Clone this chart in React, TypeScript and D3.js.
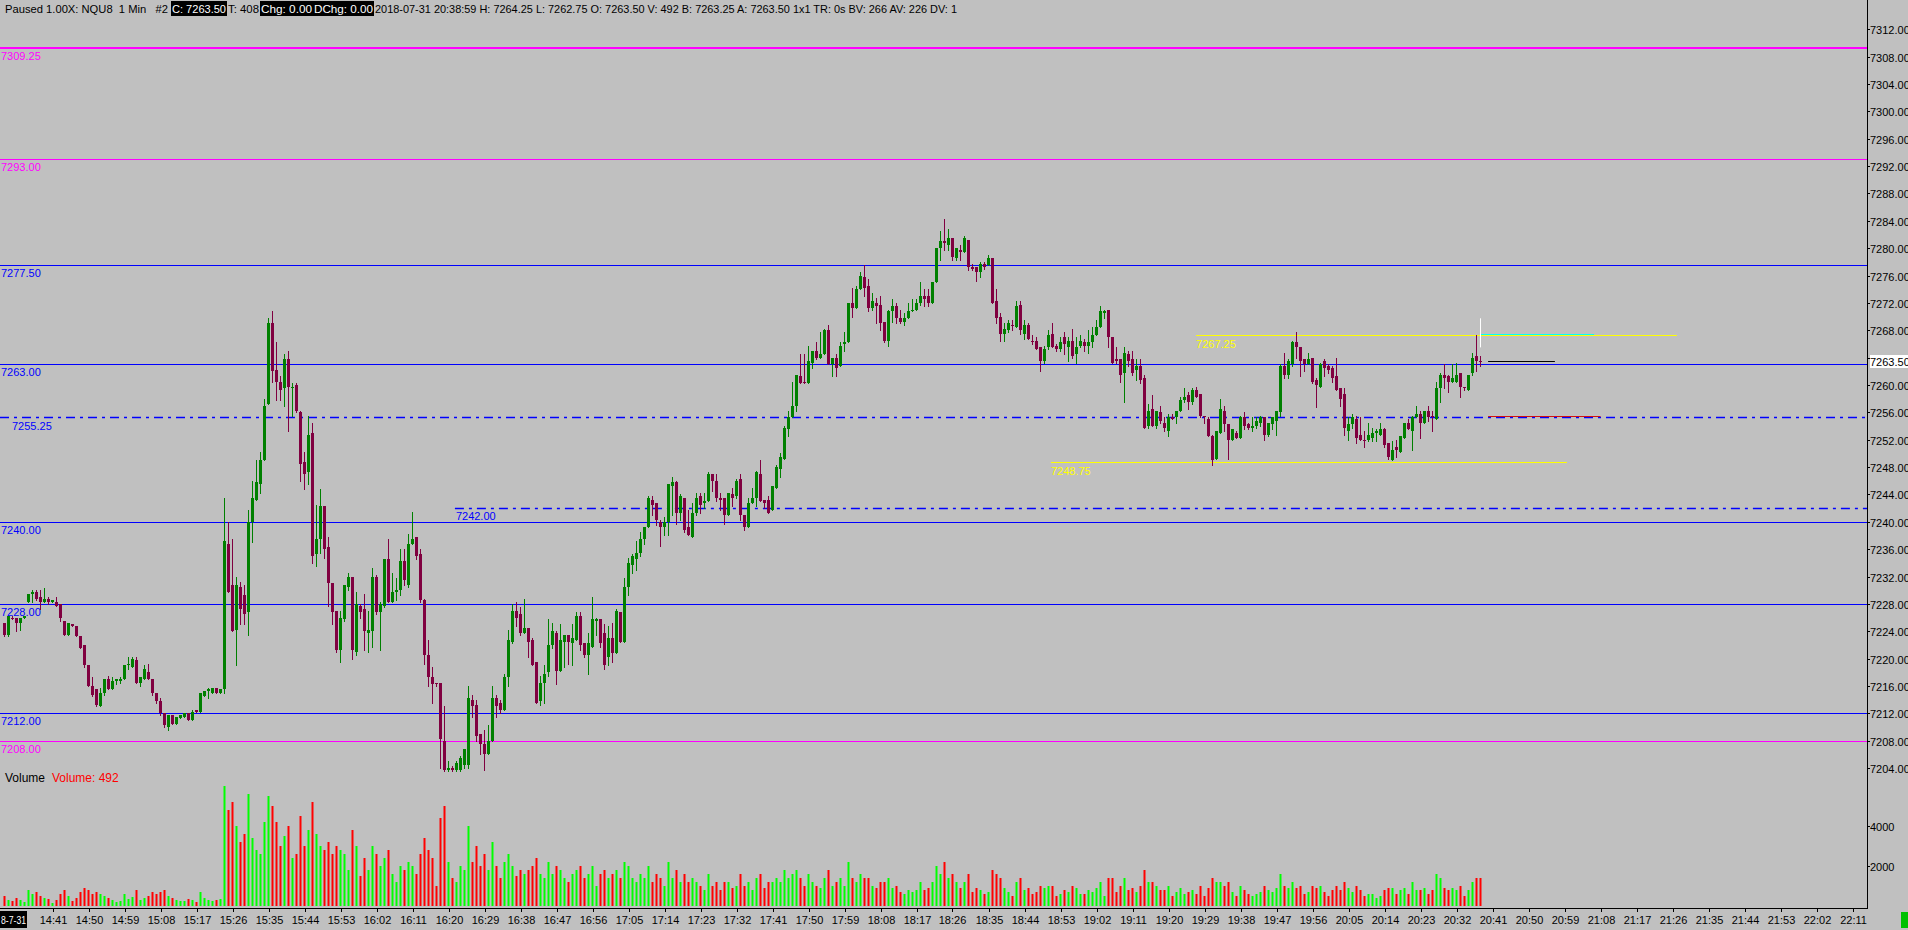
import React from 'react';
import * as d3 from 'd3';

// ---------------- DATA ----------------
const startTime = '14:29';
const opens = [
7225.25,7223.5,7226.0,7226.0,7225.25,7226.0,7228.25,7229.5,7229.75,7229.0,
7228.25,7228.75,7228.25,7228.25,7228.0,7225.5,7223.5,7225.0,7224.75,7223.25,
7222.0,7219.0,7216.0,7215.5,7213.0,7215.0,7217.0,7215.5,7216.75,7216.75,
7217.0,7219.0,7218.75,7219.75,7216.5,7217.0,7218.0,7217.0,7215.0,7213.75,
7212.0,7210.0,7211.75,7210.5,7211.25,7211.5,7212.0,7211.0,7212.5,7212.25,
7214.5,7215.25,7215.0,7215.75,7215.0,7215.5,7236.75,7230.75,7224.25,7230.5,
7229.25,7226.75,7240.0,7243.25,7245.5,7249.0,7257.25,7269.0,7262.25,7260.5,
7259.5,7263.75,7259.5,7260.0,7256.0,7248.75,7247.25,7253.0,7235.25,7237.5,
7242.25,7236.25,7231.0,7227.0,7221.25,7225.75,7230.5,7232.0,7221.0,7227.75,
7227.25,7223.75,7224.0,7232.0,7226.75,7227.75,7234.5,7228.25,7229.75,7230.0,
7234.25,7230.75,7236.75,7237.75,7235.25,7228.5,7220.5,7217.25,7216.5,7216.5,
7208.0,7203.75,7204.0,7203.75,7203.75,7204.5,7204.5,7214.0,7213.25,7209.0,
7207.5,7206.0,7208.0,7214.25,7213.5,7212.5,7217.25,7222.5,7227.0,7226.5,
7223.75,7224.5,7222.75,7219.5,7213.75,7216.5,7218.0,7222.0,7223.75,7218.25,
7222.5,7223.5,7222.25,7222.75,7226.25,7222.25,7220.5,7221.75,7225.5,7225.75,
7223.75,7220.25,7223.0,7220.75,7226.75,7222.5,7230.5,7233.75,7234.5,7235.5,
7237.5,7239.25,7243.25,7242.75,7240.0,7239.25,7240.0,7245.25,7245.75,7241.25,
7243.5,7239.25,7237.75,7241.25,7243.75,7242.75,7243.0,7247.0,7246.0,7243.5,
7243.5,7241.0,7244.0,7243.75,7246.25,7241.0,7239.25,7242.75,7243.5,7247.0,
7243.25,7243.25,7241.75,7245.0,7247.75,7249.25,7253.5,7255.25,7257.0,7261.25,
7260.5,7260.25,7263.25,7265.0,7264.0,7264.5,7268.0,7263.0,7264.0,7262.75,
7266.0,7266.25,7272.0,7271.25,7274.0,7275.75,7274.5,7271.25,7272.0,7271.75,
7269.25,7266.5,7270.75,7271.5,7269.75,7269.25,7269.75,7270.75,7271.0,7272.0,
7273.0,7273.0,7272.0,7275.0,7280.0,7281.0,7280.5,7281.5,7278.5,7279.75,
7279.5,7281.25,7277.25,7277.25,7276.5,7277.75,7277.5,7278.5,7272.25,7270.0,
7267.5,7268.0,7268.75,7268.5,7271.75,7267.5,7268.75,7266.5,7266.5,7265.5,
7263.5,7265.5,7267.5,7265.75,7265.25,7267.0,7265.5,7266.5,7264.5,7265.75,
7266.25,7265.75,7266.25,7267.25,7268.5,7270.5,7271.0,7267.0,7263.75,7263.75,
7261.75,7264.5,7263.75,7262.25,7262.75,7261.0,7254.0,7256.5,7254.0,7256.0,
7254.5,7253.25,7255.25,7255.25,7256.25,7257.75,7258.5,7257.5,7259.25,7258.75,
7255.5,7255.0,7252.5,7249.25,7253.0,7256.25,7254.25,7252.0,7253.0,7252.25,
7255.25,7254.25,7253.75,7254.0,7254.5,7255.25,7252.75,7254.25,7254.75,7256.0,
7262.75,7261.5,7263.0,7266.25,7265.5,7263.75,7263.0,7264.0,7260.75,7259.75,
7263.5,7262.75,7262.5,7261.25,7259.5,7258.75,7253.25,7254.25,7255.0,7252.75,
7252.0,7252.0,7252.25,7253.0,7252.75,7253.5,7251.5,7249.0,7251.0,7250.25,
7252.25,7254.5,7253.25,7255.25,7255.75,7254.5,7256.25,7255.5,7255.0,7259.5,
7261.5,7261.25,7260.5,7260.5,7261.75,7259.75,7259.25,7261.75,7264.25,7263.5];
const highs = [
7225.25,7226.25,7226.25,7226.0,7226.0,7226.25,7229.5,7230.0,7230.0,7230.0,
7230.25,7229.0,7228.5,7229.0,7228.0,7225.5,7225.25,7225.0,7224.75,7223.25,
7222.0,7219.0,7217.25,7215.5,7215.75,7217.0,7217.5,7217.25,7217.0,7217.25,
7219.0,7220.25,7220.25,7220.25,7217.25,7219.0,7219.25,7217.0,7215.0,7214.25,
7212.0,7211.75,7211.75,7211.5,7211.75,7212.0,7212.0,7212.5,7212.5,7215.0,
7215.25,7215.75,7215.75,7215.75,7215.5,7243.5,7240.0,7237.5,7232.0,7231.25,
7230.75,7241.75,7246.0,7249.0,7250.25,7258.0,7269.75,7270.75,7266.25,7261.25,
7264.5,7265.0,7260.25,7260.25,7256.25,7250.25,7255.5,7254.5,7242.5,7244.75,
7242.25,7237.75,7231.0,7227.0,7227.0,7230.75,7232.5,7232.0,7229.75,7228.0,
7229.5,7227.0,7233.25,7232.25,7228.25,7234.5,7237.5,7232.5,7231.75,7236.0,
7236.0,7238.25,7241.5,7237.75,7236.0,7228.75,7222.75,7218.75,7216.5,7216.5,
7213.0,7205.0,7204.25,7205.0,7205.75,7206.75,7216.0,7214.75,7214.0,7209.0,
7209.5,7210.25,7216.0,7214.75,7214.0,7217.75,7224.25,7228.0,7228.25,7227.5,
7228.75,7224.5,7223.0,7219.5,7217.5,7219.0,7225.75,7225.25,7224.0,7225.0,
7223.5,7223.5,7225.0,7226.75,7226.75,7222.25,7223.75,7229.0,7226.0,7225.75,
7225.0,7224.75,7225.25,7227.25,7226.75,7231.75,7234.75,7235.25,7237.25,7238.5,
7239.25,7243.75,7243.75,7242.75,7240.25,7240.75,7245.5,7246.5,7246.0,7244.0,
7243.5,7241.75,7242.75,7244.25,7244.25,7244.25,7247.25,7247.0,7247.0,7244.25,
7243.5,7244.25,7245.0,7246.25,7247.0,7241.0,7243.5,7245.0,7247.5,7249.0,
7243.25,7243.75,7245.25,7248.25,7250.0,7254.0,7256.25,7260.5,7261.5,7264.5,
7264.5,7265.75,7265.0,7266.25,7267.75,7268.25,7268.75,7264.0,7264.5,7266.25,
7267.75,7272.0,7274.25,7274.5,7276.5,7277.5,7275.5,7273.5,7272.75,7273.0,
7269.25,7271.0,7272.5,7272.0,7271.0,7270.5,7272.0,7272.5,7272.5,7275.0,
7274.0,7274.0,7275.0,7280.0,7282.5,7284.25,7282.75,7281.5,7280.0,7280.5,
7281.75,7281.25,7277.75,7277.25,7278.0,7278.0,7279.0,7278.5,7274.0,7270.5,
7269.0,7269.5,7269.5,7272.25,7272.25,7269.5,7269.0,7267.25,7267.0,7265.5,
7265.75,7268.0,7269.0,7266.0,7267.0,7267.75,7267.0,7268.25,7267.0,7267.25,
7266.75,7268.0,7268.5,7269.5,7271.5,7271.0,7271.0,7267.0,7265.5,7263.75,
7265.5,7265.0,7265.0,7263.75,7263.75,7261.5,7257.25,7258.5,7256.25,7257.0,
7255.25,7255.75,7255.75,7256.25,7258.25,7259.5,7259.0,7259.5,7259.75,7258.75,
7255.5,7255.25,7252.75,7253.25,7258.0,7257.0,7254.25,7253.5,7253.25,7255.5,
7256.0,7254.5,7255.25,7255.25,7255.5,7255.25,7254.5,7255.25,7256.25,7263.0,
7264.75,7263.75,7266.5,7267.75,7265.5,7263.75,7264.75,7264.0,7261.0,7263.25,
7263.75,7263.0,7262.75,7264.0,7259.5,7259.5,7255.25,7255.75,7255.5,7255.25,
7253.25,7254.5,7253.75,7253.5,7254.5,7253.75,7251.5,7251.75,7252.0,7252.5,
7254.5,7255.0,7255.5,7257.0,7256.25,7256.25,7257.0,7256.25,7260.5,7261.75,
7263.0,7261.5,7263.0,7263.25,7261.75,7259.75,7261.5,7264.75,7267.25,7264.25];
const lows = [
7223.25,7223.25,7225.75,7224.0,7224.25,7226.0,7228.25,7228.25,7228.5,7227.25,
7228.25,7228.0,7228.25,7227.75,7225.5,7223.5,7223.5,7224.75,7223.25,7221.5,
7218.75,7216.0,7214.5,7213.0,7213.0,7214.75,7215.5,7215.5,7216.25,7216.5,
7217.0,7218.5,7218.75,7216.5,7216.0,7217.0,7217.0,7214.75,7213.5,7211.75,
7210.0,7209.5,7210.5,7210.5,7211.25,7211.5,7211.0,7211.0,7212.25,7212.25,
7214.5,7214.25,7215.0,7215.0,7215.0,7215.0,7229.75,7224.0,7219.0,7225.0,
7225.0,7223.5,7237.0,7243.25,7244.25,7249.0,7257.25,7260.5,7257.75,7257.75,
7257.0,7253.25,7255.5,7256.0,7246.0,7244.75,7245.5,7234.0,7233.5,7235.5,
7234.75,7227.75,7225.0,7221.0,7219.5,7225.5,7230.0,7220.0,7220.5,7226.0,
7221.25,7221.0,7221.75,7226.5,7221.25,7227.5,7228.25,7228.25,7228.5,7229.25,
7230.75,7230.5,7236.75,7234.5,7228.25,7219.25,7216.0,7213.5,7216.0,7204.0,
7203.5,7203.5,7203.5,7203.5,7203.5,7204.0,7204.0,7211.5,7208.0,7206.0,
7203.75,7206.0,7208.0,7211.5,7212.0,7212.5,7216.0,7222.25,7224.75,7223.5,
7223.75,7220.25,7219.0,7213.5,7213.25,7213.5,7217.5,7221.5,7216.25,7218.25,
7218.75,7219.25,7219.0,7222.75,7221.25,7220.25,7217.75,7221.75,7223.5,7221.75,
7218.5,7219.0,7219.5,7220.75,7222.5,7222.5,7229.25,7232.5,7233.0,7235.0,
7236.75,7239.25,7241.0,7239.5,7236.5,7238.0,7238.0,7241.0,7239.75,7240.25,
7238.5,7238.0,7237.75,7241.0,7241.25,7242.0,7243.0,7244.5,7243.0,7241.75,
7239.75,7241.0,7242.25,7243.5,7240.25,7238.75,7239.25,7242.75,7242.25,7243.0,
7242.0,7241.25,7241.75,7245.0,7246.5,7249.25,7252.5,7255.25,7256.25,7260.25,
7260.25,7260.25,7262.5,7263.75,7264.0,7264.5,7263.0,7261.25,7261.25,7262.75,
7265.0,7266.25,7270.0,7271.25,7274.0,7273.0,7270.75,7271.0,7269.0,7268.0,
7266.25,7265.75,7269.25,7269.0,7269.0,7268.75,7269.75,7270.75,7271.0,7271.75,
7271.5,7271.5,7272.0,7275.0,7278.25,7279.75,7279.75,7278.25,7278.25,7278.25,
7279.5,7276.75,7276.75,7275.25,7275.75,7277.0,7277.5,7272.0,7269.0,7266.5,
7266.5,7267.75,7268.0,7268.5,7267.5,7266.75,7266.75,7266.0,7265.25,7262.0,
7263.25,7265.25,7265.5,7265.0,7265.0,7264.5,7263.5,7264.0,7263.25,7265.5,
7265.0,7264.75,7265.5,7267.25,7268.5,7269.75,7265.5,7263.25,7263.25,7260.5,
7257.5,7262.75,7261.5,7260.75,7260.25,7253.75,7253.75,7254.0,7253.75,7254.5,
7253.25,7252.5,7255.0,7254.5,7256.25,7257.5,7256.5,7257.25,7258.25,7255.25,
7254.5,7252.5,7248.25,7249.25,7253.0,7253.25,7249.25,7252.0,7252.25,7252.25,
7253.5,7253.5,7253.25,7253.75,7254.0,7252.0,7252.5,7253.5,7252.75,7255.5,
7261.0,7261.0,7262.75,7264.0,7261.25,7262.0,7263.0,7260.25,7256.75,7259.75,
7261.25,7261.75,7260.5,7259.25,7257.0,7252.75,7252.0,7253.75,7251.5,7252.0,
7251.0,7251.75,7251.75,7251.75,7252.75,7251.0,7249.25,7249.0,7249.5,7250.25,
7252.25,7253.5,7250.5,7255.25,7252.25,7254.5,7254.75,7253.25,7255.0,7257.5,
7259.5,7259.0,7260.5,7260.5,7258.25,7259.25,7259.25,7261.5,7262.0,7262.75];
const closes = [
7223.5,7226.25,7226.0,7225.25,7226.0,7226.25,7229.5,7229.75,7228.75,7228.25,
7228.75,7228.25,7228.5,7227.75,7226.0,7223.5,7225.25,7224.75,7223.25,7221.5,
7219.0,7216.0,7214.75,7213.25,7215.0,7217.0,7215.5,7216.75,7217.0,7217.0,
7219.0,7219.25,7220.0,7216.5,7217.25,7218.5,7217.0,7215.0,7213.75,7212.0,
7210.25,7211.75,7210.5,7211.5,7211.75,7212.0,7211.0,7212.25,7212.25,7215.0,
7215.25,7215.5,7215.75,7215.0,7215.5,7237.25,7229.75,7224.0,7230.75,7227.25,
7226.5,7240.0,7243.5,7245.75,7249.0,7257.0,7269.0,7262.0,7260.5,7259.25,
7263.75,7259.75,7259.75,7256.25,7248.5,7247.0,7252.75,7235.0,7237.5,7242.25,
7236.0,7231.0,7226.75,7221.25,7226.0,7230.75,7232.0,7221.25,7228.0,7226.75,
7224.0,7224.25,7232.0,7226.75,7228.0,7234.5,7228.25,7229.75,7230.0,7234.25,
7231.5,7236.75,7237.5,7235.0,7228.5,7220.5,7217.25,7216.25,7216.25,7208.25,
7203.75,7204.0,7203.75,7204.75,7205.5,7206.75,7214.25,7213.0,7208.75,7207.5,
7206.0,7208.0,7214.25,7213.0,7212.5,7217.25,7222.75,7227.0,7226.0,7223.75,
7224.5,7222.5,7219.0,7213.5,7216.5,7217.75,7222.0,7224.0,7218.25,7222.75,
7223.5,7222.5,7223.0,7226.25,7222.0,7220.5,7222.25,7225.75,7225.75,7222.25,
7219.0,7223.0,7220.75,7227.0,7222.5,7230.5,7234.0,7235.0,7235.5,7237.5,
7239.25,7243.5,7242.5,7240.25,7239.25,7240.0,7245.5,7245.75,7241.25,7243.75,
7238.75,7238.0,7241.25,7243.5,7242.5,7243.0,7247.0,7246.0,7243.5,7243.25,
7241.0,7244.25,7243.5,7246.0,7241.0,7239.25,7242.75,7243.5,7247.25,7243.0,
7242.75,7241.25,7245.25,7248.0,7249.5,7253.75,7255.25,7257.0,7261.5,7260.25,
7260.25,7263.5,7265.0,7264.0,7264.5,7268.0,7263.0,7264.0,7262.5,7265.75,
7266.25,7272.0,7271.25,7274.0,7276.0,7274.25,7271.25,7272.25,7271.5,7269.0,
7266.5,7270.75,7271.5,7269.75,7269.25,7269.75,7270.75,7271.0,7272.0,7273.0,
7272.5,7272.0,7275.0,7280.0,7281.0,7280.75,7281.5,7278.75,7280.0,7279.5,
7281.5,7277.25,7277.0,7276.5,7277.75,7277.25,7278.5,7272.0,7269.75,7267.5,
7268.25,7269.0,7268.75,7271.5,7268.0,7268.75,7266.75,7266.25,7265.25,7263.5,
7265.25,7267.25,7265.5,7265.25,7266.25,7266.0,7266.5,7264.25,7265.5,7266.5,
7265.75,7266.25,7267.25,7268.5,7270.75,7270.75,7267.0,7263.25,7263.5,7261.5,
7264.75,7263.5,7261.75,7262.75,7260.75,7253.75,7256.25,7254.0,7256.25,7254.75,
7253.75,7255.25,7255.0,7256.25,7257.75,7258.25,7257.5,7259.25,7258.25,7255.5,
7255.25,7252.5,7249.0,7253.25,7256.5,7254.25,7252.0,7253.5,7252.25,7255.25,
7254.0,7253.75,7254.0,7254.75,7255.25,7252.75,7254.5,7255.25,7256.25,7262.75,
7261.5,7263.5,7266.25,7265.5,7263.5,7263.0,7263.75,7260.5,7260.0,7263.0,
7262.5,7262.25,7261.0,7259.25,7258.0,7253.75,7254.25,7255.25,7252.25,7252.0,
7251.75,7252.75,7253.0,7253.25,7253.5,7251.25,7249.5,7250.5,7250.5,7252.5,
7254.5,7253.5,7255.25,7255.75,7254.5,7256.25,7255.25,7255.25,7259.5,7261.5,
7261.0,7260.5,7261.0,7261.5,7259.75,7259.5,7261.5,7264.0,7263.5,7263.5];
const volumes = [
500,300,250,400,300,200,800,600,700,500,
400,350,150,300,600,800,500,250,400,700,
900,800,600,700,600,500,400,300,200,250,
600,350,450,800,300,400,500,700,600,700,
800,500,400,300,250,250,350,300,200,700,
400,300,250,300,350,6000,4800,5200,4000,3200,
3600,5600,3400,2800,2600,4200,5500,5000,4200,3000,
3500,4000,2400,2600,4500,3000,3800,5200,3600,3000,
2800,3200,2600,3000,2800,2600,1800,3800,3000,1500,
2400,1800,3000,2600,2000,2400,2800,1600,1200,2000,
1800,2200,2000,1600,2600,3400,2800,2400,1000,4400,
5000,2200,1400,1200,2000,1800,4000,2200,3000,2000,
2600,1800,3200,2000,1400,2200,2600,2000,1500,1800,
1600,1800,2000,2400,1600,1400,2200,1600,2000,1800,
1400,1200,1600,1800,2000,1400,1600,2000,1000,1600,
1800,1400,1600,1800,1400,2200,2000,1400,1200,1600,
1400,2000,1200,1600,1400,1000,2200,1400,1800,1200,
1600,1200,1400,1200,1000,800,1600,1000,1200,800,
1200,1200,900,1000,1600,1000,1200,800,1400,1600,
900,1200,1200,1400,1200,1800,1400,1600,1800,1400,
1000,1600,1200,1000,900,1400,1800,1000,1200,1400,
1000,2200,1400,1200,1600,1400,1400,1000,900,1200,
1200,1400,900,1000,700,600,800,700,800,1200,
800,900,1200,2000,1600,2200,1400,1600,1200,900,
1200,1600,700,900,800,600,700,1800,1600,1400,
900,700,500,1200,1400,800,900,600,700,1000,
900,1000,1000,500,600,800,700,1000,900,600,
600,800,700,900,1200,500,1400,1400,700,1000,
1400,800,900,700,1000,1800,1200,1200,1000,800,
800,1000,500,700,900,600,700,800,600,1000,
500,900,1400,1200,1200,1000,1200,700,500,1000,
800,600,500,600,700,1000,800,700,900,1600,
1000,900,1200,900,1000,600,700,1000,900,1000,
700,500,800,1000,800,1200,900,700,1000,800,
500,600,600,400,500,800,900,900,600,800,
900,600,1200,800,800,900,600,800,1600,1400,
900,800,900,800,1000,500,800,1200,1400,1400];

const priceTicks = d3.range(7204, 7313, 4);
const volumeTicks = [2000, 4000];
const timeTickLabels = ['14:41','14:50','14:59','15:08','15:17','15:26','15:35','15:44','15:53','16:02','16:11','16:20','16:29','16:38','16:47','16:56','17:05','17:14','17:23','17:32','17:41','17:50','17:59','18:08','18:17','18:26','18:35','18:44','18:53','19:02','19:11','19:20','19:29','19:38','19:47','19:56','20:05','20:14','20:23','20:32','20:41','20:50','20:59','21:08','21:17','21:26','21:35','21:44','21:53','22:02','22:11'];
const dateLabel = '8-7-31';

const levelPrices = [7309.25, 7293.0, 7277.5, 7263.0, 7240.0, 7228.0, 7212.0, 7208.0];
const levelLabels = ['7309.25','7293.00','7277.50','7263.00','7240.00','7228.00','7212.00','7208.00'];
const levelKinds = ['magentaThick','magenta','blue','blue','blue','blue','blue','magenta'];

const dashPrices = [7255.25, 7242.0];
const dashLabels = ['7255.25', '7242.00'];
const dashStartIdx = [-1.125, 112.6];

const yellowPrices = [7267.25, 7248.75];
const yellowLabels = ['7267.25', '7248.75'];
const yellowStartIdx = [297.9, 261.6];
const yellowEndIdx = [418.1, 390.6];

const lastPrice = 7263.5;
const markerPrices = { cyan: 7267.5, black: 7263.5, red: 7255.5 };
const markerWhite = [7265.5, 7269.75];

const headerParts = [
  { t: 'Paused 1.00X: NQU8  1 Min   #2', box: false },
  { t: 'C: 7263.50', box: true },
  { t: 'T: 408', box: false },
  { t: 'Chg: 0.00', box: true },
  { t: 'DChg: 0.00', box: true },
  { t: '2018-07-31 20:38:59 H: 7264.25 L: 7262.75 O: 7263.50 V: 492 B: 7263.25 A: 7263.50 1x1 TR: 0s BV: 266 AV: 226 DV: 1', box: false },
];

// ---------------- LAYOUT ----------------
const W = 1908, H = 930;
const AXIS_X = 1867;
const PRICE_BOTTOM = 773;
const VOL_BASE = 906;
const FONT = '"Liberation Sans", Arial, sans-serif';

const x = d3.scaleLinear().domain([-1.125, 465.375]).range([0, 1866]);
const y = d3.scaleLinear().domain([7204, 7312]).range([768.04, 29.32]);
const yv = d3.scaleLinear().domain([0, 4000]).range([VOL_BASE, 826]);

const UP = '#008000', DOWN = '#800040';
const VUP = '#00ff00', VDOWN = '#ff0000';
const BLUE = '#0000ff', MAGENTA = '#ff00ff', YELLOW = '#ffff00';

function timeLabelIndex(lbl: string) {
  const [h, m] = lbl.split(':').map(Number);
  const [sh, sm] = startTime.split(':').map(Number);
  return h * 60 + m - (sh * 60 + sm);
}

const headerX = [5, 172, 228, 261, 314, 375];
const headerW = [163, 54, 31, 51, 59, 582];

export default function App() {
  const candles = opens.map((o, i) => {
    const c = closes[i], h = highs[i], l = lows[i];
    const up = c > o;
    const xc = x(i);
    const top = Math.round(y(Math.max(o, c)));
    const bot = Math.round(y(Math.min(o, c)));
    const wt = Math.round(y(h));
    const wb = Math.round(y(l));
    return { i, up, xc, top, bh: Math.max(1, bot - top), wt, wh: Math.max(1, wb - wt + 1) };
  });

  return (
    <div style={{ position: 'fixed', left: 0, top: 0, width: W, height: H, background: '#c0c0c0' }}>
      <svg width={W} height={H} style={{ display: 'block', fontFamily: FONT }}>
        <defs>
          <clipPath id="priceClip"><rect x={0} y={18} width={AXIS_X} height={PRICE_BOTTOM - 18} /></clipPath>
          <clipPath id="axisClip"><rect x={AXIS_X} y={0} width={W - AXIS_X} height={PRICE_BOTTOM + 2} /></clipPath>
        </defs>
        <rect x={0} y={0} width={W} height={H} fill="#c0c0c0" />

        {/* header */}
        {headerParts.map((p, k) => (
          <g key={k}>
            {p.box && <rect x={headerX[k] - 1} y={1} width={headerW[k] + 2} height={15} fill="#000" />}
            <text x={headerX[k]} y={12.5} fontSize={11} fill={p.box ? '#fff' : '#000'}
              textLength={headerW[k]} lengthAdjust="spacingAndGlyphs" style={{ whiteSpace: 'pre' }}>{p.t}</text>
          </g>
        ))}

        {/* price panel */}
        <g clipPath="url(#priceClip)">
          {levelPrices.map((p, k) => {
            const yy = Math.round(y(p));
            const kind = levelKinds[k];
            const col = kind === 'blue' ? BLUE : MAGENTA;
            const sw = kind === 'magentaThick' ? 2 : 1;
            return (
              <g key={'lv' + k}>
                <line x1={0} x2={AXIS_X} y1={yy + (sw === 1 ? 0.5 : 0)} y2={yy + (sw === 1 ? 0.5 : 0)} stroke={col} strokeWidth={sw} />
                <text x={1} y={yy + 12} fontSize={11} fill={col}>{levelLabels[k]}</text>
              </g>
            );
          })}
          {dashPrices.map((p, k) => {
            const yy = Math.round(y(p)) + 0.5;
            const x0 = x(dashStartIdx[k]);
            return (
              <g key={'ds' + k}>
                <line x1={x0} x2={AXIS_X} y1={yy} y2={yy} stroke={BLUE} strokeWidth={1.3} strokeDasharray="9,5,3,5" />
                <text x={k === 0 ? 12 : x0 + 1} y={k === 0 ? yy + 12 : yy + 11} fontSize={11} fill={BLUE}>{dashLabels[k]}</text>
              </g>
            );
          })}
          {yellowPrices.map((p, k) => {
            const yy = Math.round(y(p)) + 0.5;
            const x0 = x(yellowStartIdx[k]);
            return (
              <g key={'yl' + k}>
                <line x1={x0} x2={x(yellowEndIdx[k])} y1={yy} y2={yy} stroke={YELLOW} strokeWidth={1} />
                <text x={x0} y={yy + 12} fontSize={11} fill={YELLOW}>{yellowLabels[k]}</text>
              </g>
            );
          })}
          {candles.map(c => (
            <g key={'c' + c.i} fill={c.up ? UP : DOWN}>
              <rect x={c.xc - 0.5} y={c.wt} width={1} height={c.wh} />
              <rect x={c.xc - 1.5} y={c.top} width={3} height={c.bh} />
            </g>
          ))}
          {/* right-side markers */}
          <line x1={x(368.9)} x2={x(397.4)} y1={Math.round(y(markerPrices.cyan)) + 0.5} y2={Math.round(y(markerPrices.cyan)) + 0.5} stroke="#00ffff" strokeWidth={1} />
          <line x1={x(370.9)} x2={x(387.6)} y1={Math.round(y(markerPrices.black)) + 0.5} y2={Math.round(y(markerPrices.black)) + 0.5} stroke="#000" strokeWidth={1} />
          <line x1={x(370.9)} x2={x(399)} y1={Math.round(y(markerPrices.red)) + 0.5} y2={Math.round(y(markerPrices.red)) + 0.5} stroke="#d01010" strokeWidth={1} />
          <line x1={x(369)} x2={x(369)} y1={y(markerWhite[1])} y2={y(markerWhite[0])} stroke="#ffffff" strokeWidth={1} />
        </g>

        {/* volume panel */}
        <text x={5} y={782} fontSize={12} fill="#000">Volume</text>
        <text x={52} y={782} fontSize={12} fill="#ff0000">Volume: 492</text>
        {volumes.map((v, i) => {
          const up = closes[i] > opens[i];
          const top = Math.round(yv(v));
          return <rect key={'v' + i} x={x(i) - 1} y={top} width={2} height={VOL_BASE - top} fill={up ? VUP : VDOWN} />;
        })}

        {/* right axis */}
        <line x1={AXIS_X + 0.5} x2={AXIS_X + 0.5} y1={0} y2={909} stroke="#000" strokeWidth={1} />
        <g clipPath="url(#axisClip)">
          {priceTicks.map(p => {
            const yy = Math.round(y(p)) + 0.5;
            return (
              <g key={'pt' + p}>
                <line x1={AXIS_X} x2={AXIS_X + 3} y1={yy} y2={yy} stroke="#000" />
                <text x={AXIS_X + 3} y={yy + 4} fontSize={11} fill="#000">{p.toFixed(2)}</text>
              </g>
            );
          })}
        </g>
        <rect x={AXIS_X + 3} y={Math.round(y(lastPrice)) - 6} width={W - AXIS_X - 3} height={13} fill="#fff" />
        <text x={AXIS_X + 3} y={Math.round(y(lastPrice)) + 4.5} fontSize={11} fill="#000">{lastPrice.toFixed(2)}</text>
        {volumeTicks.map(v => {
          const yy = Math.round(yv(v)) + 0.5;
          return (
            <g key={'vt' + v}>
              <line x1={AXIS_X} x2={AXIS_X + 3} y1={yy} y2={yy} stroke="#000" />
              <text x={AXIS_X + 3} y={yy + 4} fontSize={11} fill="#000">{v}</text>
            </g>
          );
        })}

        {/* bottom axis */}
        <line x1={0} x2={AXIS_X} y1={908.5} y2={908.5} stroke="#000" strokeWidth={1} />
        {timeTickLabels.map(t => {
          const xx = Math.round(x(timeLabelIndex(t))) + 0.5;
          return (
            <g key={'tt' + t}>
              <line x1={xx} x2={xx} y1={908} y2={912} stroke="#000" />
              <text x={xx} y={924} fontSize={11} fill="#000" textAnchor="middle">{t}</text>
            </g>
          );
        })}
        <rect x={0} y={911} width={27} height={17} fill="#000" />
        <text x={1} y={924} fontSize={11} fill="#fff" textLength={25} lengthAdjust="spacingAndGlyphs">{dateLabel}</text>
        <rect x={1901} y={912} width={7} height={16} fill="#00c000" />
      </svg>
    </div>
  );
}
